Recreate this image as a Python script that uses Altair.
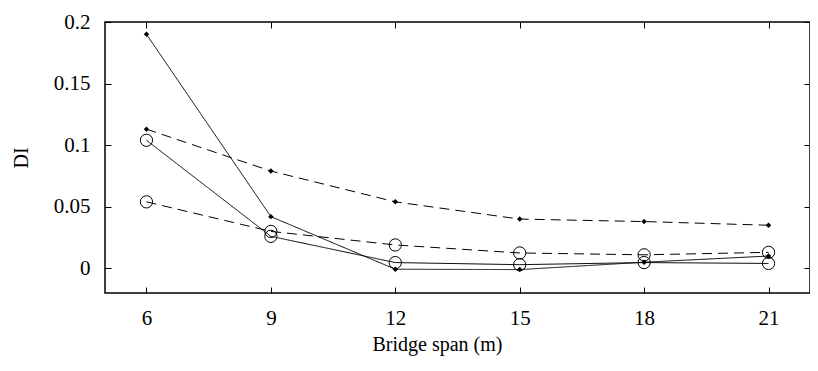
import altair as alt
import pandas as pd

span = [6, 9, 12, 15, 18, 21]
solid_diamond = [0.190, 0.042, -0.0007, -0.001, 0.005, 0.010]
solid_circle = [0.104, 0.026, 0.0047, 0.003, 0.0047, 0.004]
dashed_diamond = [0.113, 0.079, 0.054, 0.040, 0.038, 0.035]
dashed_circle = [0.054, 0.030, 0.019, 0.0125, 0.011, 0.0130]

x_ticks = [6, 9, 12, 15, 18, 21]
y_ticks = [0, 0.05, 0.1, 0.15, 0.2]

series = [
    ("A", "solid", "diamond", solid_diamond),
    ("B", "solid", "circle", solid_circle),
    ("C", "dashed", "diamond", dashed_diamond),
    ("D", "dashed", "circle", dashed_circle),
]
rows = []
for name, style, marker, vals in series:
    for s, v in zip(span, vals):
        rows.append({"series": name, "style": style, "marker": marker, "span": s, "DI": v})
df = pd.DataFrame(rows)

FONT = "Liberation Serif"
xscale = alt.Scale(domain=[5, 22], nice=False, zero=False)
yscale = alt.Scale(domain=[-0.02, 0.2], nice=False, zero=False)

x_main = alt.X("span:Q", scale=xscale, title="Bridge span (m)",
               axis=alt.Axis(values=x_ticks, offset=-6, tickSize=6, domain=False, grid=False,
                             labelPadding=14, titlePadding=6, titleX=332, format="d"))
y_main = alt.Y("DI:Q", scale=yscale, title="DI",
               axis=alt.Axis(values=y_ticks, offset=-6, tickSize=6, domain=False, grid=False,
                             labelPadding=15, titlePadding=22, format=".2~f"))

base = alt.Chart(df)

lines = base.mark_line(color="black", strokeWidth=1).encode(
    x=x_main,
    y=y_main,
    detail="series:N",
    strokeDash=alt.StrokeDash("style:N", scale=alt.Scale(domain=["solid", "dashed"],
                                                          range=[[1, 0], [10, 6]]), legend=None),
)

x_plain = alt.X("span:Q", scale=xscale, axis=None)
y_plain = alt.Y("DI:Q", scale=yscale, axis=None)

diamonds = base.transform_filter(alt.datum.marker == "diamond").mark_point(
    shape="diamond", filled=True, color="black", size=30, opacity=1
).encode(x=x_plain, y=y_plain)

circles = base.transform_filter(alt.datum.marker == "circle").mark_point(
    shape="circle", filled=False, color="black", size=150, strokeWidth=1, opacity=1
).encode(x=x_plain, y=y_plain)

mirror = base.mark_point(opacity=0).encode(
    x=alt.X("span:Q", scale=xscale, title=None,
            axis=alt.Axis(orient="top", values=x_ticks, offset=-6, tickSize=6, domain=False,
                          grid=False, labels=False)),
    y=alt.Y("DI:Q", scale=yscale, title=None,
            axis=alt.Axis(orient="right", values=y_ticks, offset=-6, tickSize=6, domain=False,
                          grid=False, labels=False)),
)

chart = alt.layer(lines, diamonds, circles, mirror).resolve_axis(
    x="independent", y="independent"
).properties(
    width=705, height=271,
    autosize=alt.AutoSizeParams(type="none"),
    padding={"left": 97, "top": 14, "right": 0, "bottom": 70},
    background="white",
).configure_view(
    stroke="black", strokeWidth=1.5
).configure_axis(
    labelFont=FONT, titleFont=FONT, labelFontSize=21, titleFontSize=20,
    labelColor="black", titleColor="black", tickColor="black", tickWidth=1,
    titleFontWeight="normal",
)

chart.save("out.html", embed_options={"renderer": "svg", "actions": False})
